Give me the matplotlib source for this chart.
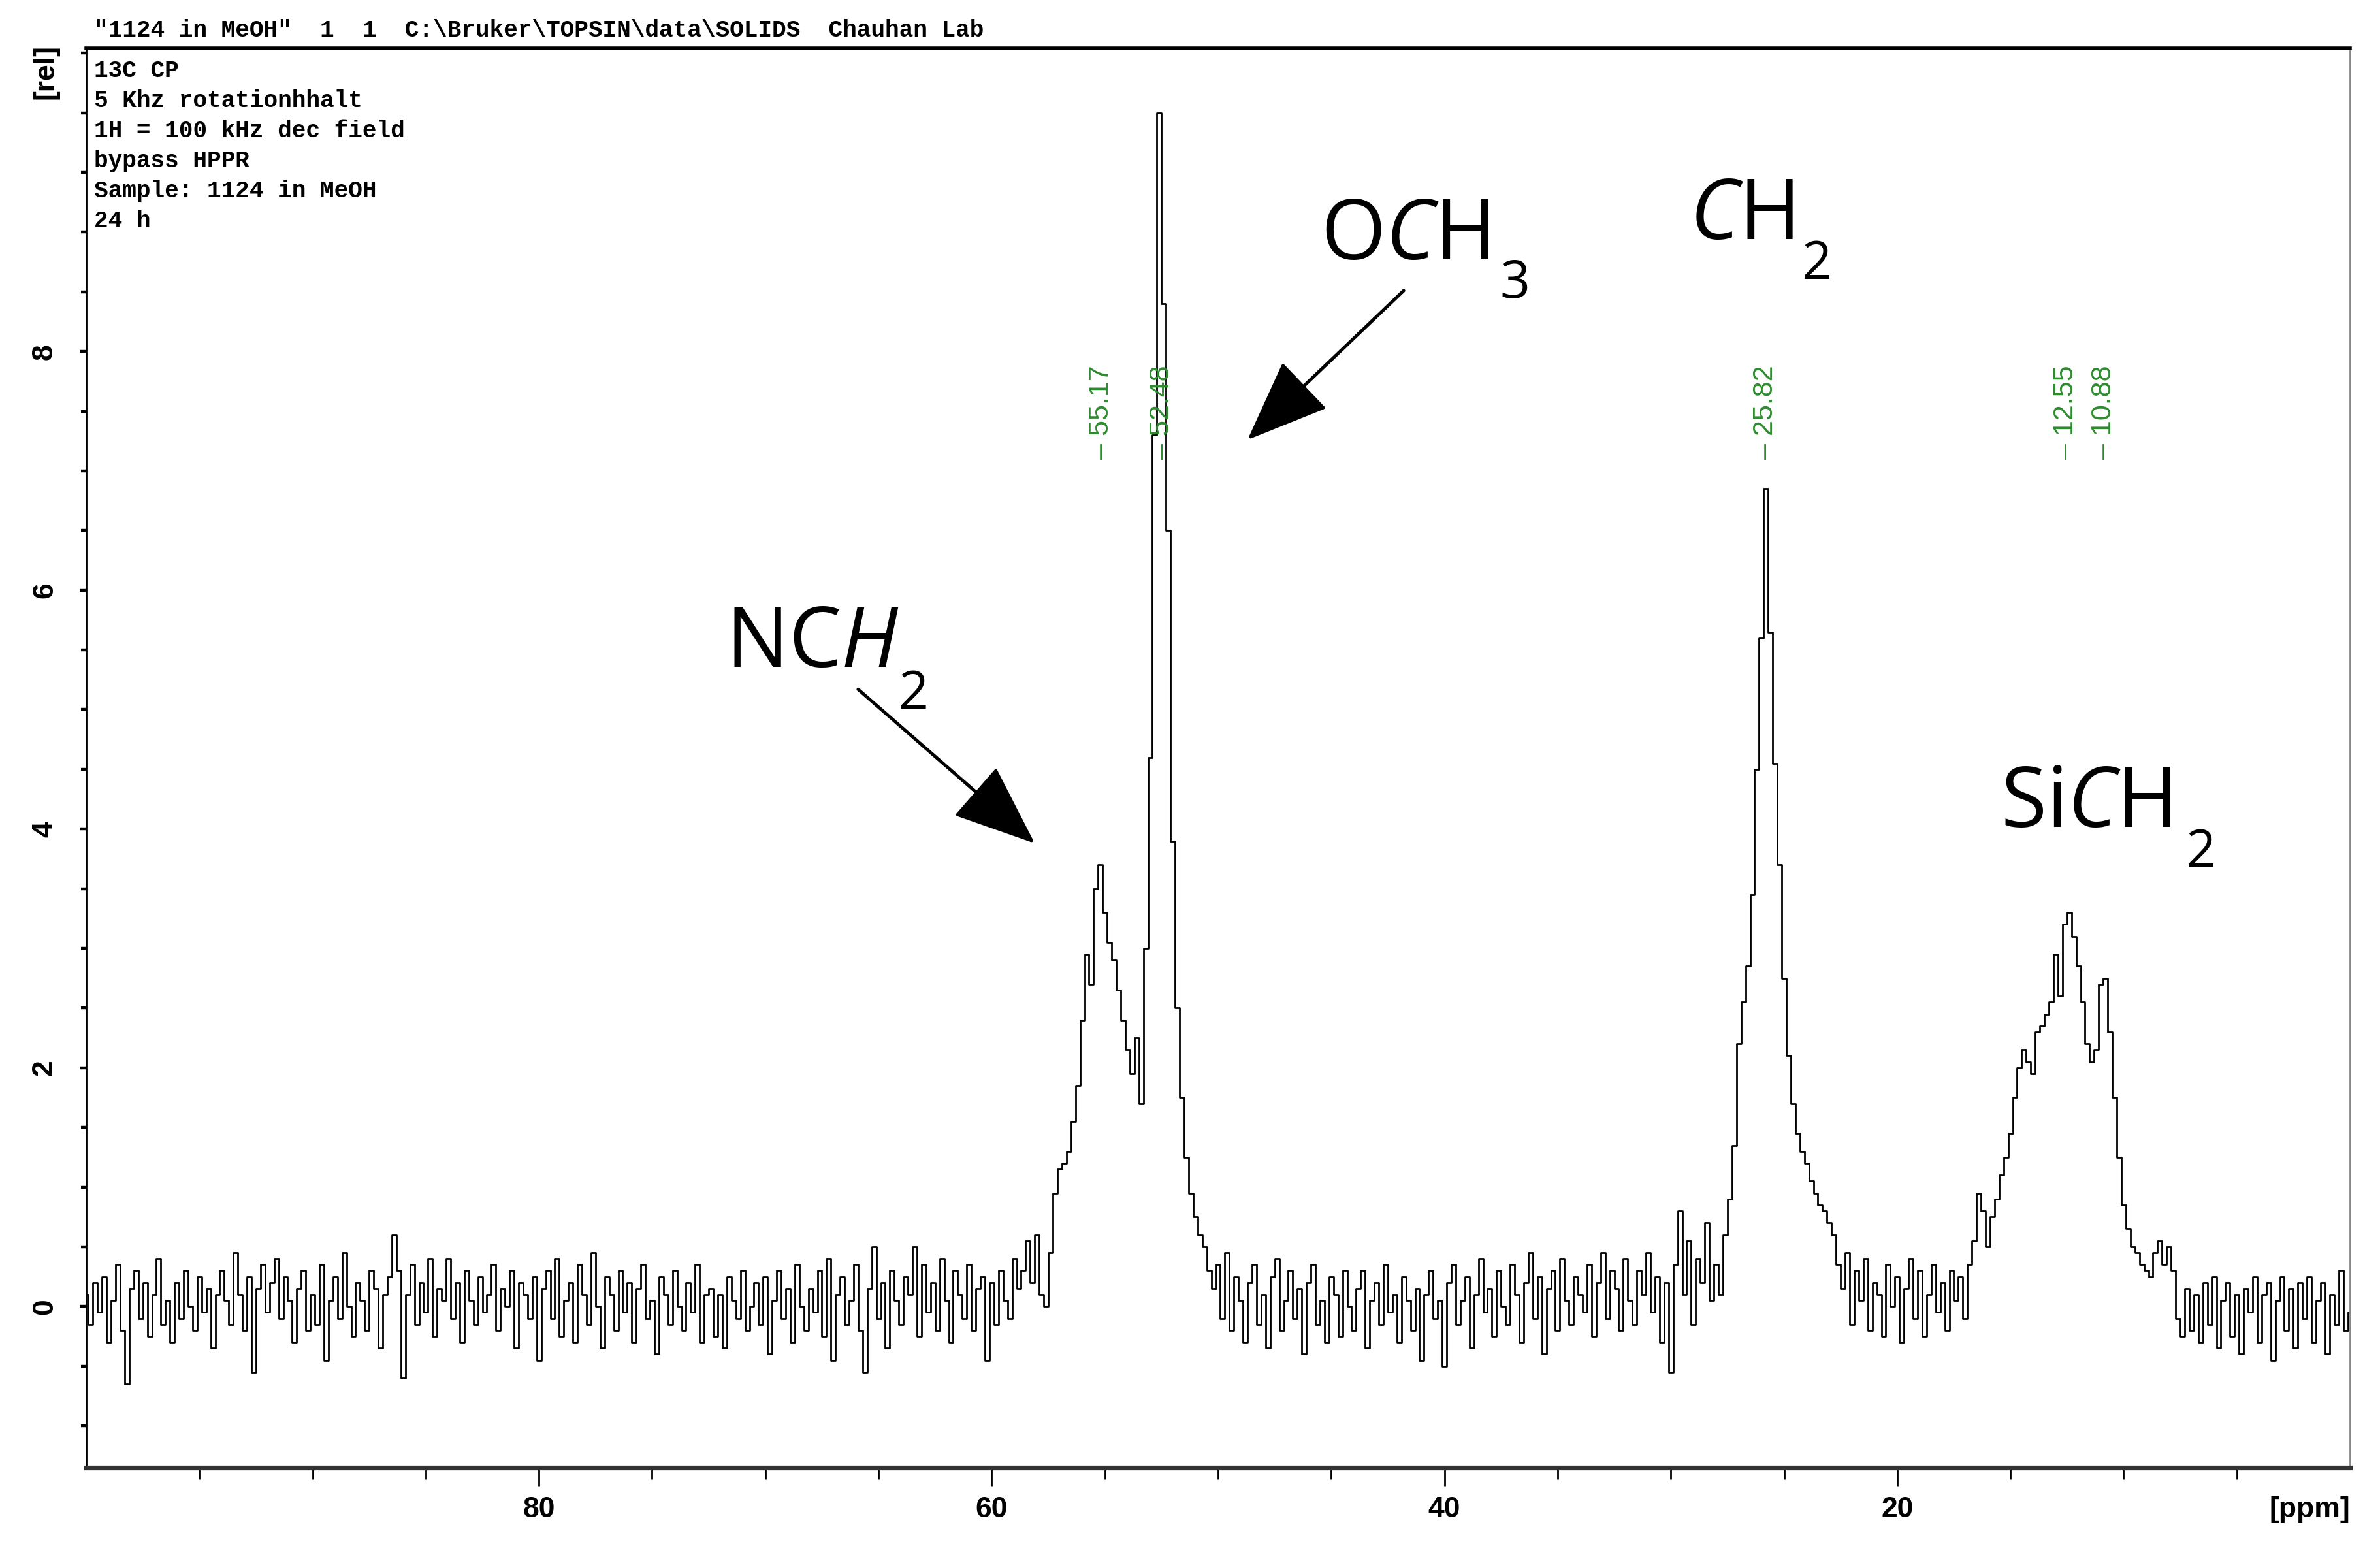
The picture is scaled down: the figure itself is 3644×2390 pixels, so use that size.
import numpy as np
import matplotlib
matplotlib.use('Agg')
import matplotlib.pyplot as plt
from matplotlib.ticker import FixedLocator, MultipleLocator

ppm_start = 100.0
ppm_step = 0.2
intensity = [
    0.10, -0.15, 0.20, -0.05, 0.25, -0.30, 0.05, 0.35, -0.20, -0.65,   # 100 - 98.2
    0.15, 0.30, -0.10, 0.20, -0.25, 0.10, 0.40, -0.15, 0.05, -0.30,    # 98 - 96.2
    0.20, -0.10, 0.30, 0.00, -0.20, 0.25, -0.05, 0.15, -0.35, 0.10,    # 96 - 94.2
    0.30, 0.05, -0.15, 0.45, 0.10, -0.20, 0.25, -0.55, 0.15, 0.35,     # 94 - 92.2
    -0.05, 0.20, 0.40, -0.10, 0.25, 0.05, -0.30, 0.15, 0.30, -0.20,    # 92 - 90.2
    0.10, -0.15, 0.35, -0.45, 0.05, 0.25, -0.10, 0.45, 0.00, -0.25,    # 90 - 88.2
    0.20, 0.05, -0.20, 0.30, 0.15, -0.35, 0.10, 0.25, 0.60, 0.30,      # 88 - 86.2
    -0.60, 0.10, 0.35, -0.15, 0.20, -0.05, 0.40, -0.25, 0.15, 0.05,    # 86 - 84.2
    0.40, -0.10, 0.20, -0.30, 0.30, 0.05, -0.15, 0.25, -0.05, 0.10,    # 84 - 82.2
    0.35, -0.20, 0.15, 0.00, 0.30, -0.35, 0.20, 0.10, -0.10, 0.25,     # 82 - 80.2
    -0.45, 0.15, 0.30, -0.10, 0.40, -0.25, 0.05, 0.20, -0.30, 0.35,    # 80 - 78.2
    0.10, -0.15, 0.45, 0.00, -0.35, 0.25, 0.10, -0.20, 0.30, -0.05,    # 78 - 76.2
    0.20, -0.30, 0.15, 0.35, -0.10, 0.05, -0.40, 0.25, 0.10, -0.15,    # 76 - 74.2
    0.30, 0.00, -0.20, 0.20, -0.05, 0.35, -0.30, 0.10, 0.15, -0.25,    # 74 - 72.2
    0.10, -0.35, 0.25, 0.05, -0.10, 0.30, -0.20, 0.00, 0.20, -0.15,    # 72 - 70.2
    0.25, -0.40, 0.05, 0.30, -0.10, 0.15, -0.30, 0.35, 0.00, -0.20,    # 70 - 68.2
    0.15, -0.05, 0.30, -0.25, 0.40, -0.45, 0.10, 0.25, -0.15, 0.05,    # 68 - 66.2
    0.35, -0.20, -0.55, 0.15, 0.50, -0.10, 0.20, -0.35, 0.30, 0.05,    # 66 - 64.2
    -0.15, 0.25, 0.10, 0.50, -0.25, 0.35, -0.05, 0.20, -0.20, 0.40,    # 64 - 62.2
    0.05, -0.30, 0.30, 0.10, -0.10, 0.35, -0.20, 0.15, 0.25, -0.45,    # 62 - 60.2
    0.20, -0.15, 0.30, 0.05, -0.10, 0.40, 0.15, 0.30, 0.55, 0.20,      # 60 - 58.2
    0.60, 0.10, 0.00, 0.45, 0.95, 1.15, 1.20, 1.30, 1.55, 1.85,        # 58 - 56.2
    2.40, 2.95, 2.70, 3.50, 3.70, 3.30, 3.05, 2.90, 2.65, 2.40,        # 56 - 54.2
    2.15, 1.95, 2.25, 1.70, 3.00, 4.60, 7.30, 10.00, 8.40, 6.50,       # 54 - 52.2
    3.90, 2.50, 1.75, 1.25, 0.95, 0.75, 0.60, 0.50, 0.30, 0.15,        # 52 - 50.2
    0.35, -0.10, 0.45, -0.20, 0.25, 0.05, -0.30, 0.20, 0.35, -0.15,    # 50 - 48.2
    0.10, -0.35, 0.25, 0.40, -0.20, 0.05, 0.30, -0.10, 0.15, -0.40,    # 48 - 46.2
    0.20, 0.35, -0.15, 0.05, -0.30, 0.25, 0.10, -0.25, 0.30, 0.00,     # 46 - 44.2
    -0.20, 0.15, 0.30, -0.35, 0.05, 0.20, -0.15, 0.35, -0.05, 0.10,    # 44 - 42.2
    -0.30, 0.25, 0.05, -0.20, 0.15, -0.45, 0.10, 0.30, -0.10, 0.05,    # 42 - 40.2
    -0.50, 0.20, 0.35, -0.15, 0.05, 0.25, -0.35, 0.10, 0.40, -0.05,    # 40 - 38.2
    0.15, -0.25, 0.30, 0.00, -0.15, 0.35, 0.10, -0.30, 0.20, 0.45,     # 38 - 36.2
    -0.10, 0.25, -0.40, 0.15, 0.30, -0.20, 0.40, 0.05, -0.15, 0.25,    # 36 - 34.2
    0.10, -0.05, 0.35, -0.25, 0.20, 0.45, -0.10, 0.30, 0.15, -0.20,    # 34 - 32.2
    0.40, 0.05, -0.15, 0.30, 0.10, 0.45, -0.05, 0.25, -0.30, 0.20,     # 32 - 30.2
    -0.55, 0.35, 0.80, 0.10, 0.55, -0.15, 0.40, 0.20, 0.70, 0.05,      # 30 - 28.2
    0.35, 0.10, 0.60, 0.90, 1.35, 2.20, 2.55, 2.85, 3.45, 4.50,        # 28 - 26.2
    5.60, 6.85, 5.65, 4.55, 3.70, 2.75, 2.10, 1.70, 1.45, 1.30,        # 26 - 24.2
    1.20, 1.05, 0.95, 0.85, 0.80, 0.70, 0.60, 0.35, 0.15, 0.45,        # 24 - 22.2
    -0.15, 0.30, 0.05, 0.40, -0.20, 0.20, 0.10, -0.25, 0.35, 0.00,     # 22 - 20.2
    0.25, -0.30, 0.15, 0.40, -0.10, 0.30, -0.25, 0.10, 0.35, -0.05,    # 20 - 18.2
    0.20, -0.20, 0.30, 0.05, 0.25, -0.10, 0.35, 0.55, 0.95, 0.80,      # 18 - 16.2
    0.50, 0.75, 0.90, 1.10, 1.25, 1.45, 1.75, 2.00, 2.15, 2.05,        # 16 - 14.2
    1.95, 2.30, 2.35, 2.45, 2.55, 2.95, 2.60, 3.20, 3.30, 3.10,        # 14 - 12.2
    2.85, 2.55, 2.20, 2.05, 2.15, 2.70, 2.75, 2.30, 1.75, 1.25,        # 12 - 10.2
    0.85, 0.65, 0.50, 0.45, 0.35, 0.30, 0.25, 0.45, 0.55, 0.35,        # 10 - 8.2
    0.50, 0.30, -0.10, -0.25, 0.15, -0.20, 0.10, -0.30, 0.20, -0.15,   # 8 - 6.2
    0.25, -0.35, 0.05, 0.20, -0.25, 0.10, -0.40, 0.15, -0.05, 0.25,    # 6 - 4.2
    -0.30, 0.10, 0.20, -0.45, 0.05, 0.25, -0.20, 0.15, -0.35, 0.20,    # 4 - 2.2
    -0.10, 0.25, -0.30, 0.05, 0.20, -0.40, 0.10, -0.15, 0.30, -0.20,   # 2 - 0.2
    -0.05,                                                             # 0
]

peak_ppm = [55.17, 52.48, 25.82, 12.55, 10.88]

header = '"1124 in MeOH"  1  1  C:\\Bruker\\TOPSIN\\data\\SOLIDS  Chauhan Lab'
info_lines = ['13C CP', '5 Khz rotationhhalt', '1H = 100 kHz dec field',
              'bypass HPPR', 'Sample: 1124 in MeOH', '24 h']

plt.rcParams['mathtext.fontset'] = 'custom'
plt.rcParams['mathtext.rm'] = 'Open Sans'
plt.rcParams['mathtext.it'] = 'Open Sans:italic'

W, H = 3644, 2390
fig = plt.figure(figsize=(W / 200, H / 200), dpi=200)
ax = fig.add_axes([132 / W, 143 / H, (3598 - 132) / W, (2316 - 143) / H])

ppm = ppm_start - ppm_step * np.arange(len(intensity))
ax.plot(ppm, intensity, color='black', lw=1.0, drawstyle='steps-mid')

ax.set_xlim(100, 0)
ax.set_ylim(-1.35, 10.54)

# spines like the TopSpin printout
ax.spines['top'].set_linewidth(2.0)
ax.spines['bottom'].set_linewidth(2.6)
ax.spines['bottom'].set_color('#333333')
ax.spines['left'].set_linewidth(1.0)
ax.spines['right'].set_color('#888888')
ax.spines['right'].set_linewidth(1.0)

ax.xaxis.set_major_locator(FixedLocator([80, 60, 40, 20]))
ax.xaxis.set_minor_locator(FixedLocator([95, 90, 85, 75, 70, 65, 55, 50, 45, 35, 30, 25, 15, 10, 5]))
ax.yaxis.set_major_locator(FixedLocator([0, 2, 4, 6, 8]))
ax.yaxis.set_minor_locator(MultipleLocator(0.5))

ax.tick_params(axis='x', which='major', direction='out', length=10, width=1.0, pad=6,
               labelsize=16)
ax.tick_params(axis='x', which='minor', direction='out', length=6.5, width=1.0)
ax.tick_params(axis='y', which='major', direction='out', length=3.5, width=1.6, pad=12,
               labelsize=16, labelrotation=90)
ax.tick_params(axis='y', which='minor', direction='out', length=3, width=1.6)
for lab in ax.get_xticklabels() + ax.get_yticklabels():
    lab.set_fontweight('bold')
    lab.set_family('Liberation Sans')
for lab in ax.get_yticklabels():
    lab.set_va('center')

fig.text(3598 / W, 1 - 2312 / H, '[ppm]', ha='right', va='center', fontsize=16,
         fontweight='bold', family='Liberation Sans')
fig.text(70 / W, 1 - 110 / H, '[rel]', rotation=90, ha='center', va='center',
         fontsize=16, fontweight='bold', family='Liberation Sans')

fig.text(144 / W, 1 - 46 / H, header, ha='left', va='center', fontsize=13,
         fontweight='bold', family='Liberation Mono')
for k, line in enumerate(info_lines):
    fig.text(144 / W, 1 - (109 + 46 * k) / H, line, ha='left', va='center',
             fontsize=13, fontweight='bold', family='Liberation Mono')

# peak picking labels
for p in peak_ppm:
    ax.text(p, 7.1, '\u2013 %.2f' % p, rotation=90, ha='center', va='bottom',
            color='#2e8b2e', fontsize=15.5, family='Liberation Sans')

# assignments
big = dict(fontsize=46, family='Open Sans', ha='left', va='baseline')
sub = dict(fontsize=29, family='Open Sans', ha='left', va='baseline')
ax.text(45.47, 8.77, r'O$\mathit{C}$H', **big)
ax.text(37.56, 8.45, '3', **sub)
ax.text(29.18, 8.94, r'$\mathit{C}$H', **big)
ax.text(24.21, 8.61, '2', **sub)
ax.text(71.76, 5.36, r'NC$\mathit{H}$', **big)
ax.text(64.12, 5.01, '2', **sub)
ax.text(15.43, 4.02, r'Si$\mathit{C}$H', **big)
ax.text(7.24, 3.68, '2', **sub)

arrow = dict(arrowstyle='-|>,head_length=0.8,head_width=0.32', mutation_scale=50,
             color='black', lw=1.8, shrinkA=0, shrinkB=0)
ax.annotate('', xy=(48.7, 7.26), xytext=(41.8, 8.51), arrowprops=arrow)
ax.annotate('', xy=(58.1, 3.88), xytext=(65.9, 5.17), arrowprops=arrow)

fig.savefig('out.png', dpi=200)
